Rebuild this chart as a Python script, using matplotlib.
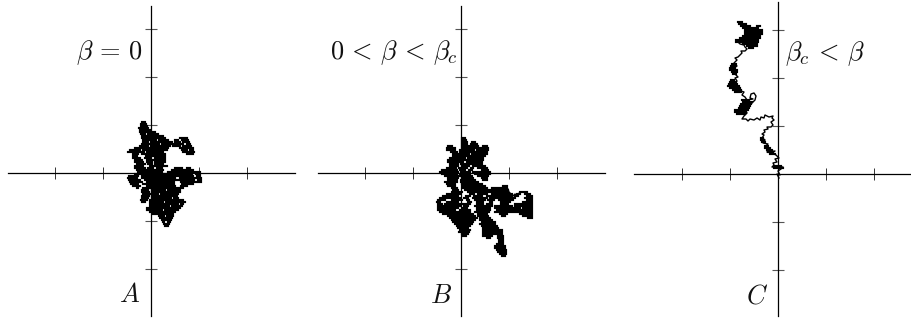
import matplotlib
matplotlib.use("Agg")
import matplotlib.pyplot as plt

plt.rcParams['mathtext.fontset'] = 'cm'

W, H = 912, 320
tick_steps = [-96, -48, 48, 96]
y_tick_steps = [-96, -48, 48, 96, 144]

# tangles, one tick = 48 units
# each row: height, then the stretches of x that are inked
rows_a = [
    (51, [(-9,-6)]), (49, [(-10,-5)]), (47, [(-10,-7),(-5,-4)]), (45, [(-12,-3)]),
    (43, [(-11,-6),(-4,-1)]), (41, [(-11,-8),(-6,4)]), (39, [(-10,-6),(-3,7)]),
    (37, [(-9,-4),(-2,12)]), (35, [(-9,-1),(2,14),(29,36)]), (33, [(-8,5),(8,17),(24,27),(31,37)]),
    (31, [(-8,-3),(0,21),(24,29),(32,38)]), (29, [(-9,8),(11,32),(36,39)]), (27, [(-11,-3),(0,19),(22,29),(32,40)]),
    (25, [(-16,-6),(-4,17),(29,42)]), (23, [(-21,-11),(-8,16),(31,36),(39,42)]), (21, [(-23,-7),(-4,-3),(-1,12),(32,43)]),
    (19, [(-18,-13),(-9,-3),(-1,14),(36,42)]), (17, [(-18,-14),(-5,-1),(2,14)]), (15, [(-18,-11),(-6,-1),(4,14)]),
    (13, [(-16,-9),(-4,-1),(2,14)]), (11, [(-16,-8),(-4,1),(4,14)]), (9, [(-14,-6),(-3,1),(4,12)]),
    (7, [(-16,-8),(-1,2),(4,16)]), (5, [(-16,-6),(-3,-1),(1,2),(6,11),(24,31),(36,39)]),
    (3, [(-14,-3),(-1,1),(3,12),(21,32),(34,42)]), (1, [(-13,-1),(2,4),(6,11),(17,34),(36,49)]),
    (-1, [(-16,19),(21,41),(45,49)]), (-3, [(-22,-13),(-9,21),(22,42),(46,49)]), (-5, [(-23,-14),(-9,24),(29,50)]),
    (-7, [(-22,-11),(-6,24),(26,43),(47,50)]), (-9, [(-21,-9),(-4,23),(30,50)]),
    (-11, [(-20,-13),(-8,23),(31,42)]), (-13, [(-18,-11),(-4,24),(30,36)]),
    (-15, [(-14,-13),(-8,-1),(-1,27),(29,32)]), (-17, [(-9,-3),(1,14),(17,29)]), (-19, [(-9,-2),(1,29)]),
    (-21, [(-8,-1),(1,7),(10,27)]), (-23, [(-9,-2),(1,26)]), (-25, [(-9,-3),(1,20),(23,27)]),
    (-27, [(-10,-4),(-1,32)]), (-29, [(-9,-6),(-1,12),(15,34)]), (-31, [(-1,27),(30,32)]),
    (-33, [(-1,18),(21,31)]), (-35, [(-4,29)]), (-37, [(-4,11),(14,27)]), (-39, [(-1,24)]),
    (-41, [(2,22)]), (-43, [(8,13),(16,22)]), (-45, [(9,21)]), (-47, [(11,20)]), (-49, [(12,13),(17,19)]),
    (-51, [(13,18)]), (-53, [(14,17)]),
]

rows_b = [
    (35, [(1,4)]), (33, [(1,5)]), (31, [(1,6),(11,14)]), (29, [(1,6),(10,16)]),
    (27, [(-13,-9),(1,7),(9,17),(22,26)]), (25, [(-14,-6),(1,27)]), (23, [(-14,-6),(-1,13),(16,27)]),
    (21, [(-10,-4),(-1,26)]), (19, [(-8,8),(11,26)]), (17, [(-8,24)]), (15, [(-11,4),(7,22)]),
    (13, [(-13,22)]), (11, [(-13,2),(6,21)]), (9, [(-11,-3),(0,21)]), (7, [(-11,-3),(1,8),(12,24)]),
    (5, [(-14,-5),(-2,6),(10,12),(17,26)]), (3, [(-19,-4),(-1,4),(8,11),(21,27)]), (1, [(-21,-3),(0,9),(12,29)]),
    (-1, [(-19,-4),(-1,9),(14,29)]), (-3, [(-16,-4),(-2,11),(17,27)]), (-5, [(-13,-3),(1,12),(21,26)]),
    (-7, [(-13,-4),(0,14),(22,26)]), (-9, [(-16,-4),(0,17)]), (-11, [(-14,-6),(1,21)]),
    (-13, [(-13,-6),(2,24),(42,46)]), (-15, [(-9,-4),(2,26),(31,46)]), (-17, [(-8,-3),(4,47)]),
    (-19, [(-9,1),(7,47),(59,66)]), (-21, [(-14,-1),(9,13),(17,26),(31,51),(56,59),(64,69)]),
    (-23, [(-18,-3),(5,9),(13,21),(26,51),(54,57),(66,71)]), (-25, [(-21,-1),(3,7),(12,26),(29,54),(64,71)]),
    (-27, [(-23,-16),(-9,1),(6,8),(14,24),(27,33),(38,52),(66,71)]), (-29, [(-24,-21),(-14,-3),(7,10),(16,22),(29,31),(40,49),(62,71)]),
    (-31, [(-23,-19),(-16,1),(3,9),(16,22),(26,31),(40,47),(54,71)]), (-33, [(-23,-1),(3,7),(14,31),(34,51),(54,71)]),
    (-35, [(-23,-3),(2,6),(16,29),(34,59),(62,71)]), (-37, [(-23,-6),(-1,9),(16,29),(36,71)]),
    (-39, [(-21,-6),(-4,9),(14,28),(34,71)]), (-41, [(-18,12),(17,26),(39,46),(59,71)]),
    (-43, [(-13,14),(17,27),(41,44),(62,71)]), (-45, [(-11,16),(19,29),(67,71)]), (-47, [(-9,14),(19,31)]),
    (-49, [(-8,12),(21,34)]), (-51, [(-6,11),(19,34)]), (-53, [(-4,9),(21,36)]), (-55, [(-3,7),(22,37)]),
    (-57, [(-1,9),(22,41)]), (-59, [(-2,8),(22,41)]), (-61, [(1,7),(22,41)]), (-63, [(2,5),(22,31),(37,42)]),
    (-65, [(26,29),(37,42)]), (-67, [(38,42)]), (-69, [(38,42)]), (-71, [(36,42)]), (-73, [(34,44)]),
    (-75, [(34,44)]), (-77, [(36,45)]), (-79, [(37,45)]), (-81, [(39,45)]), (-83, [(41,44)]),
]

rows_c = [
    (152, [(-40,-36)]), (150, [(-39,-32)]), (148, [(-37,-28),(-21,-18)]), (146, [(-35,-20)]),
    (144, [(-33,-16)]), (142, [(-33,-24),(-23,-16)]), (140, [(-33,-16)]), (138, [(-35,-18)]),
    (136, [(-38,-29),(-28,-18)]), (134, [(-42,-20)]), (132, [(-42,-35),(-33,-20)]), (130, [(-35,-21)]),
    (128, [(-31,-21)]), (126, [(-29,-25)]),
    # middle clumps
    (110, [(-46,-42)]), (108, [(-47,-43)]), (106, [(-48,-43)]), (104, [(-48,-41)]), (102, [(-46,-41)]), (100, [(-45,-42)]),
    (94, [(-47,-44)]), (92, [(-48,-42)]), (90, [(-49,-41)]), (88, [(-50,-39)]), (86, [(-48,-38)]), (84, [(-45,-37)]),
    (82, [(-43,-37)]), (74, [(-36,-29)]), (72, [(-35,-26)]), (70, [(-37,-27)]),
    (68, [(-38,-28)]), (66, [(-39,-29)]), (64, [(-43,-30)]), (62, [(-43,-32)]), (60, [(-41,-33)]),
    (36, [(-17,-15)]), (34, [(-17,-14)]), (32, [(-16,-13)]), (28, [(-13,-10)]), (26, [(-13,-8)]), (24, [(-11,-6)]),
    (22, [(-10,-5)]), (20, [(-8,-3)]), (8, [(-3,3)]), (6, [(-4,5)]),
]

# thin stretches of the walk
strand_c = [(1,-4),(-1,0),(2,-1),(0,3),(3,5),(5,7),(0,7),(-6,7),(-4,9),(-5,11),(-1,12),(-3,15),(1,16),(-2,19),(-6,21),(-3,23),
            (-11,22),(-9,25),(-13,27),(-10,30),(-15,31),(-13,34),(-16,36),(-14,39),(-16,40),(-13,42),(-14,44),(-10,45),(-11,47),
            (-7,47),(-5,49),(-7,52),(-4,54),(-6,56),(-5,58),(-9,57),(-13,59),(-14,56),(-17,57),(-18,54),(-21,56),(-24,54),(-28,55),
            (-30,53),(-32,55),(-36,55),(-34,58),(-31,61),(-33,65),(-29,68),(-25,72),(-23,74),(-22,78),(-24,81),(-27,80),(-28,76),
            (-25,75),(-31,74),(-33,77),(-36,79),(-34,82),(-40,84),(-43,90),(-41,93),(-43,96),(-40,97),(-43,100),(-42,103),(-44,106),
            (-41,108),(-44,111),(-41,114),(-43,116),(-40,117),(-38,119),(-36,121),(-37,123),(-33,123),(-31,125),(-33,127),(-34,129),
            (-38,130),(-41,133)]
strand_a = []
strand_b = [(44,-14),(47,-16),(48,-19),(52,-23),(54,-21),(56,-23),(59,-19)]

rows_list = [rows_a, rows_b, rows_c]
strands = [strand_a, strand_b, strand_c]

frame_left = [8, 318, 634]
frame_right = [295, 605, 921]
origin_x = [151, 461, 778]
origin_y = [173, 173, 174]
frame_top = [6, 6, 2]
frame_bottom = [316, 316, 316]

labels_top = [r"$\beta\,=\,0$", r"$0\,<\,\beta\,<\,\beta_c$", r"$\beta_c\,<\,\beta$"]
labels_top_pos = [(-42, 120), (-67, 120), (47, 120)]
labels_bot = ["$A$", "$B$", "$C$"]
labels_bot_pos = [(-21, -122), (-20, -123), (-21, -122)]

fig = plt.figure(figsize=(W / 100, H / 100), dpi=100)

for i in range(3):
    left = frame_left[i] / W
    bottom = 1 - frame_bottom[i] / H
    ax = fig.add_axes([left, bottom, (frame_right[i] - frame_left[i]) / W, (frame_bottom[i] - frame_top[i]) / H])
    ax.set_xlim(frame_left[i] - origin_x[i], frame_right[i] - origin_x[i])
    ax.set_ylim(origin_y[i] - frame_bottom[i], origin_y[i] - frame_top[i])
    ax.patch.set_alpha(0)

    for side in ["top", "right"]:
        ax.spines[side].set_visible(False)
    for side in ["left", "bottom"]:
        ax.spines[side].set_position("zero")
        ax.spines[side].set_linewidth(0.9)
    ax.set_xticks(tick_steps)
    ax.set_yticks(y_tick_steps)
    ax.set_xticklabels([])
    ax.set_yticklabels([])
    ax.tick_params(axis="x", direction="inout", length=8, width=0.7, color="#333333")
    ax.tick_params(axis="y", direction="inout", length=9, width=0.8, color="#555555")

    # projecting caps close the one pixel slits between stretches
    for y, stretches in rows_list[i]:
        for x0, x1 in stretches:
            ax.plot([x0, x1], [y, y], color="black", linewidth=1.55, solid_capstyle="projecting", zorder=3)
    if strands[i]:
        xs = [q[0] for q in strands[i]]
        ys = [q[1] for q in strands[i]]
        ax.plot(xs, ys, color="black", linewidth=1.0, zorder=3)

    tx, ty = labels_top_pos[i]
    ax.text(tx, ty, labels_top[i], fontsize=19, ha="center", va="center", color="#111111")
    bx, by = labels_bot_pos[i]
    ax.text(bx, by, labels_bot[i], fontsize=19, ha="center", va="center", color="#111111")

fig.savefig("out.png", dpi=100)
